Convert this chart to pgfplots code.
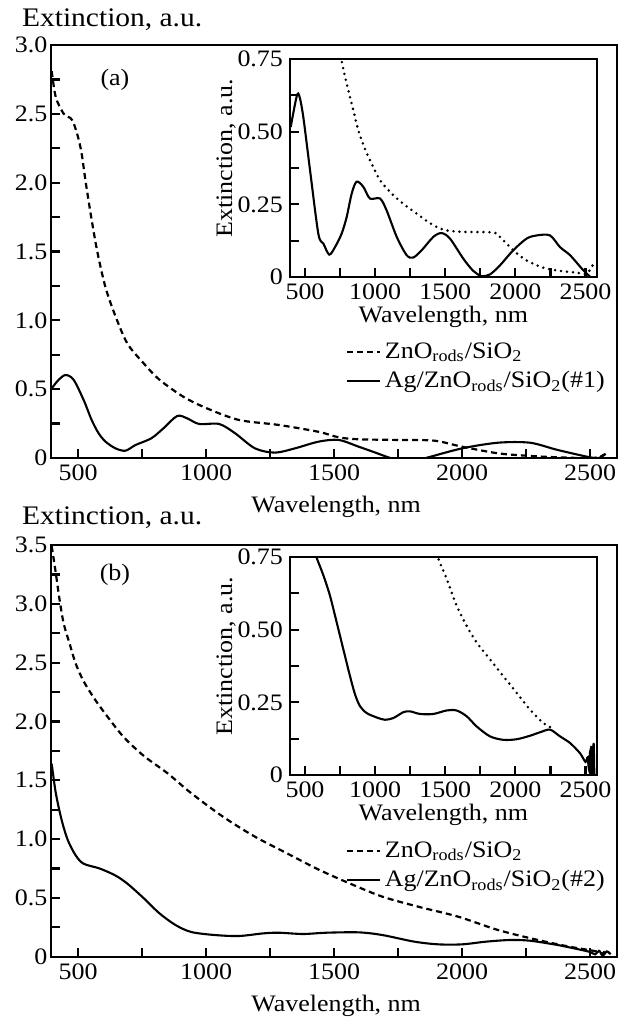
\documentclass[border=0pt]{standalone}
\usepackage{fontspec}
\setmainfont{Liberation Serif}[FakeStretch=1.1]
\usepackage{pgfplots}
\usepackage{pgfplotstable}
\pgfplotsset{compat=1.18}

% panel (a), main plot
\pgfplotstableread{
nm ext
397 2.81
413 2.62
444 2.50
470 2.47
483 2.43
500 2.33
514 2.21
530 2.00
553 1.73
576 1.49
607 1.24
646 1.03
693 0.83
755 0.69
817 0.57
911 0.445
1004 0.36
1129 0.276
1284 0.24
1440 0.19
1518 0.15
1596 0.136
1751 0.131
1891 0.126
2000 0.082
2140 0.034
2265 0.015
2374 0.005
2514 0.0
2560 0.03
}\zncA
\pgfplotstableread{
nm ext
397 0.506
425 0.57
452 0.603
483 0.567
522 0.42
553 0.276
580 0.18
607 0.119
646 0.07
685 0.053
724 0.094
786 0.143
833 0.215
887 0.305
926 0.288
973 0.247
1051 0.247
1113 0.18
1191 0.07
1269 0.039
1347 0.07
1440 0.119
1518 0.131
1596 0.082
1660 0.04
1720 0.0
1790 -0.03
1868 0.005
2000 0.07
2140 0.111
2265 0.111
2374 0.058
2514 0.0
2545 0.01
2560 0.03
}\agA
% panel (a), inset
\pgfplotstableread{
nm ext
740 0.80
769 0.725
809 0.642
845 0.573
880 0.505
928 0.44
975 0.39
1035 0.333
1118 0.287
1201 0.252
1296 0.218
1415 0.178
1510 0.16
1653 0.155
1843 0.153
1890 0.138
1985 0.092
2080 0.057
2199 0.032
2318 0.021
2437 0.015
2508 0.011
2551 0.04
}\zncAi
\pgfplotstableread{
nm ext
398 0.516
441 0.622
460 0.622
488 0.55
536 0.367
595 0.149
631 0.115
673 0.077
714 0.103
761 0.149
797 0.206
833 0.287
868 0.328
916 0.31
963 0.27
1035 0.27
1082 0.229
1154 0.138
1225 0.075
1272 0.067
1332 0.092
1415 0.138
1474 0.151
1534 0.132
1629 0.063
1700 0.021
1760 0.003
1819 0.009
1890 0.04
1985 0.092
2080 0.132
2152 0.143
2247 0.143
2318 0.103
2390 0.075
2485 0.023
2556 -0.009
}\agAi
% panel (b), main plot
\pgfplotstableread{
nm ext
397 3.49
413 3.26
428 3.03
444 2.83
467 2.66
491 2.49
522 2.34
568 2.18
615 2.04
677 1.87
755 1.71
849 1.56
942 1.39
1066 1.19
1191 1.02
1315 0.88
1440 0.74
1564 0.62
1689 0.51
1829 0.425
1985 0.34
2140 0.227
2296 0.142
2420 0.085
2529 0.043
2545 0.02
2560 0.05
2576 0.03
}\zncB
\pgfplotstableread{
nm ext
397 1.64
413 1.39
436 1.16
460 0.99
491 0.86
522 0.79
584 0.75
646 0.69
693 0.62
755 0.50
817 0.37
880 0.27
942 0.21
1035 0.184
1129 0.176
1222 0.198
1284 0.204
1378 0.193
1471 0.204
1596 0.207
1689 0.184
1813 0.128
1907 0.105
2000 0.105
2094 0.128
2187 0.142
2265 0.136
2374 0.099
2467 0.057
2500 0.04
2520 0.02
2535 0.05
2550 0.01
2565 0.045
2580 0.02
}\agB
% panel (b), inset
\pgfplotstableread{
nm ext
1400 0.82
1451 0.744
1510 0.675
1581 0.583
1653 0.513
1724 0.456
1819 0.398
1914 0.34
2009 0.283
2104 0.225
2199 0.179
2283 0.156
}\zncBi
\pgfplotstableread{
nm ext
560 0.78
583 0.747
631 0.687
678 0.617
726 0.525
773 0.433
821 0.34
857 0.277
892 0.237
940 0.213
1011 0.198
1070 0.19
1130 0.196
1201 0.216
1249 0.219
1320 0.21
1415 0.21
1510 0.222
1581 0.222
1653 0.202
1724 0.167
1819 0.133
1914 0.121
2009 0.123
2104 0.135
2176 0.147
2247 0.156
2318 0.133
2390 0.11
2461 0.075
2500 0.045
2515 0.06
2525 0.02
2533 0.08
2540 0.0
2547 0.10
2552 0.0
2558 0.11
2563 0.0
}\agBi

\pgfplotsset{
  every axis/.append style={font=\fontsize{11.8}{13.5}\selectfont},
  base/.style={
    scale only axis,
    axis line style={line width=1.1pt},
    tick style={line width=1.1pt, black},
    tick pos=left, tick align=inside,
    major tick length=4.5pt, minor tick length=4.5pt,
    xtick={500,1000,...,2500},
    minor xtick={750,1250,1750,2250},
    /pgf/number format/assume math mode=true,
    /pgf/number format/1000 sep={},
    clip=true,
  },
  mainpanel/.style={
    base, xmin=393, xmax=2605, width=283.15pt,
    yticklabel style={inner xsep=1.5pt},
    xlabel={Wavelength, nm},
    ylabel={Extinction, a.u.},
    every axis x label/.style={at={(axis description cs:0.504,-0.133)}, anchor=base},
    legend cell align=left,
    legend image code/.code={\draw[##1, line width=1pt] (0pt,0pt) -- (16.5pt,0pt);},
  },
  insetpanel/.style={
    base, xmin=393, xmax=2580, width=153.35pt,
    ymin=0, ymax=0.75,
    ytick={0,0.25,0.5,0.75}, yticklabels={0,0.25,0.50,0.75},
    minor ytick={0.125,0.375,0.625},
    xlabel={Wavelength, nm},
    ylabel={Extinction, a.u.},
    every axis x label/.style={at={(axis description cs:0.5,-0.211)}, anchor=base},
    ylabel style={at={(ticklabel cs:0.546)}},
    ylabel shift=-6pt,
  },
  zncline/.style={line width=1.1pt, dash pattern=on 3pt off 2pt},
  dotline/.style={line width=1.4pt, line cap=round, dash pattern=on 0pt off 3pt},
  agline/.style={line width=1.05pt},
}

\begin{document}
\begin{tikzpicture}
\useasboundingbox (0,0) rectangle (311pt,509.5pt);

% (a) main
\begin{axis}[mainpanel, at={(25.35pt,280.5pt)}, anchor=south west,
  height=206.5pt, ymin=0, ymax=3.0,
  ytick={0,0.5,...,3.0}, yticklabels={0,0.5,1.0,1.5,2.0,2.5,3.0},
  minor ytick={0.25,0.75,...,2.75},
  every axis y label/.style={at={(axis description cs:-0.063,1.0436)}, anchor=base west, font=\fontsize{13.4}{15}\selectfont},
  legend style={draw=none, fill=none, at={(0.51,0.30)}, anchor=north west, row sep=1pt}]
\addplot[zncline, smooth] table[x=nm, y=ext] {\zncA};
\addlegendentry{ZnO\textsubscript{rods}/SiO\textsubscript{2}}
\addplot[agline, smooth] table[x=nm, y=ext] {\agA};
\addlegendentry{Ag/ZnO\textsubscript{rods}/SiO\textsubscript{2}(\#1)}
\node at (rel axis cs:0.1135,0.915) {(a)};
\end{axis}

% (a) inset
\begin{axis}[insetpanel, at={(145pt,371pt)}, anchor=south west, height=109pt]
\addplot[dotline, smooth] table[x=nm, y=ext] {\zncAi};
\addplot[agline, smooth] table[x=nm, y=ext] {\agAi};
\end{axis}

% (b) main
\begin{axis}[mainpanel, at={(25.35pt,31.15pt)}, anchor=south west,
  height=205.85pt, ymin=0, ymax=3.5,
  ytick={0,0.5,...,3.5}, yticklabels={0,0.5,1.0,1.5,2.0,2.5,3.0,3.5},
  minor ytick={0.25,0.75,...,3.25},
  every axis y label/.style={at={(axis description cs:-0.063,1.051)}, anchor=base west, font=\fontsize{13.4}{15}\selectfont},
  legend style={draw=none, fill=none, at={(0.51,0.30)}, anchor=north west, row sep=1pt}]
\addplot[zncline, smooth] table[x=nm, y=ext] {\zncB};
\addlegendentry{ZnO\textsubscript{rods}/SiO\textsubscript{2}}
\addplot[agline, smooth] table[x=nm, y=ext] {\agB};
\addlegendentry{Ag/ZnO\textsubscript{rods}/SiO\textsubscript{2}(\#2)}
\node at (rel axis cs:0.1135,0.927) {(b)};
\end{axis}

% (b) inset
\begin{axis}[insetpanel, at={(145pt,122pt)}, anchor=south west, height=109pt]
\addplot[dotline, smooth] table[x=nm, y=ext] {\zncBi};
\addplot[agline, smooth] table[x=nm, y=ext] {\agBi};
\end{axis}
\end{tikzpicture}
\end{document}
